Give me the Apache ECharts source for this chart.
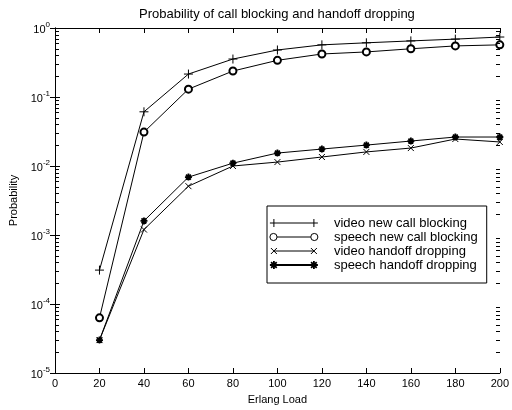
<!DOCTYPE html>
<html>
<head>
<meta charset="utf-8">
<script src="https://cdn.jsdelivr.net/npm/echarts@6/dist/echarts.min.js"></script>
<style>html,body{margin:0;padding:0;background:#fff;}#c{width:512px;height:410px;}</style>
</head>
<body>
<div id="c"></div>
<script>
const erlangLoad = [20, 40, 60, 80, 100, 120, 140, 160, 180, 200];
const videoNewCallBlocking = [3.1e-4, 0.061, 0.215, 0.355, 0.48, 0.57, 0.61, 0.65, 0.69, 0.74];
const speechNewCallBlocking = [6.3e-5, 0.031, 0.13, 0.238, 0.34, 0.42, 0.45, 0.50, 0.55, 0.57];
const videoHandoffDropping = [3.0e-5, 1.2e-3, 0.0051, 0.0100, 0.0114, 0.0135, 0.0160, 0.0182, 0.0246, 0.0223];
const speechHandoffDropping = [3.0e-5, 1.6e-3, 0.0069, 0.0110, 0.0154, 0.0176, 0.0201, 0.0230, 0.0263, 0.0263];
const seriesNames = ['video new call blocking', 'speech new call blocking', 'video handoff dropping', 'speech handoff dropping'];
const xTickValues = [0, 20, 40, 60, 80, 100, 120, 140, 160, 180, 200];
const decades = [1e-5, 1e-4, 1e-3, 1e-2, 1e-1];
const minorMultipliers = [2, 3, 4, 5, 6, 7, 8, 9];

const FONT = 'Liberation Sans, Arial, Helvetica, sans-serif';
const pts = arr => erlangLoad.map((x, i) => [x, arr[i]]);
const minorTickValues = [];
decades.forEach(d => minorMultipliers.forEach(m => minorTickValues.push(d * m)));

const SYM_PLUS = 'path://M0,5L10,5M5,0L5,10';
const SYM_X = 'path://M0,0L10,10M0,10L10,0';
const SYM_STAR = 'path://M0,5L10,5M5,0L5,10M1.5,1.5L8.5,8.5M1.5,8.5L8.5,1.5';

const LEG_PLUS = 'path://M0,4L48,4M4,0L4,8M44,0L44,8';
const LEG_CIRC = 'path://M0.5,4A3.5,3.5,0,1,1,7.5,4A3.5,3.5,0,1,1,0.5,4ZM7.5,4L40.5,4M40.5,4A3.5,3.5,0,1,1,47.5,4A3.5,3.5,0,1,1,40.5,4Z';
const LEG_X = 'path://M1,1L7,7M1,7L7,1M4,4L44,4M41,1L47,7M41,7L47,1M0,4L0,4M48,4L48,4';
const LEG_STAR = 'path://M0,4L8,4M4,0L4,8M1.2,1.2L6.8,6.8M1.2,6.8L6.8,1.2M4,4L44,4M40,4L48,4M44,0L44,8M41.2,1.2L46.8,6.8M41.2,6.8L46.8,1.2';

const chart = echarts.init(document.getElementById('c'), null, {renderer: 'canvas'});

function lineSeries(name, data, symbol, size, bw) {
  return {
    name: name, type: 'line', data: pts(data), symbol: symbol, symbolSize: size,
    showAllSymbol: true,
    lineStyle: {color: '#000', width: 1},
    itemStyle: {color: '#000', borderColor: '#000', borderWidth: bw},
    emphasis: {disabled: true}, silent: true, z: 3
  };
}

const supFmt = v => {
  const e = Math.round(Math.log10(v));
  return '{b|10}{s|' + (e === 0 ? '0' : String(e)) + '}';
};

const option = {
  animation: false,
  backgroundColor: '#fff',
  textStyle: {fontFamily: FONT, color: '#000'},
  title: {
    text: 'Probability of call blocking and handoff dropping',
    left: 134, top: 3,
    textStyle: {fontSize: 13, fontWeight: 'normal', color: '#000', fontFamily: FONT}
  },
  grid: {left: 55, right: 11, top: 28, bottom: 37, containLabel: false, show: false},
  legend: {
    orient: 'vertical', left: 267, top: 206,
    padding: [10, 9, 11, 2],
    itemWidth: 48, itemHeight: 8, itemGap: 0,
    borderColor: '#000', borderWidth: 1, backgroundColor: '#fff',
    textStyle: {fontSize: 13, color: '#000', fontFamily: FONT, lineHeight: 14, padding: [0, 0, 0, 11]},
    selectedMode: false,
    data: [
      {name: seriesNames[0], icon: LEG_PLUS, itemStyle: {color: '#000', borderColor: '#000', borderWidth: 1}},
      {name: seriesNames[1], icon: LEG_CIRC, itemStyle: {color: '#fff', borderColor: '#000', borderWidth: 1}},
      {name: seriesNames[2], icon: LEG_X, itemStyle: {color: '#000', borderColor: '#000', borderWidth: 1}},
      {name: seriesNames[3], icon: LEG_STAR, itemStyle: {color: '#000', borderColor: '#000', borderWidth: 1.8}}
    ]
  },
  xAxis: [{
    type: 'value', min: 0, max: 200, interval: 20, position: 'bottom',
    name: 'Erlang Load', nameLocation: 'middle', nameGap: 21,
    nameTextStyle: {fontSize: 11, color: '#000', fontFamily: FONT},
    axisLine: {show: true, lineStyle: {color: '#000', width: 1}},
    axisTick: {show: true, inside: true, length: 5, lineStyle: {color: '#000'}},
    axisLabel: {fontSize: 11, color: '#000', margin: 5, fontFamily: FONT,
      formatter: v => xTickValues.indexOf(v) >= 0 ? String(v) : ''},
    splitLine: {show: false}
  }, {
    type: 'value', min: 0, max: 200, interval: 20, position: 'top',
    axisLine: {show: true, lineStyle: {color: '#000', width: 1}},
    axisTick: {show: true, inside: true, length: 5, lineStyle: {color: '#000'}},
    axisLabel: {show: false}, splitLine: {show: false}
  }],
  yAxis: [{
    type: 'log', logBase: 10, min: 1e-5, max: 1, position: 'left',
    name: 'Probability', nameLocation: 'middle', nameGap: 36, nameRotate: 90,
    nameTextStyle: {fontSize: 11, color: '#000', fontFamily: FONT},
    axisLine: {show: true, lineStyle: {color: '#000', width: 1}},
    axisTick: {show: true, inside: true, length: 5, lineStyle: {color: '#000'}},
    axisLabel: {
      color: '#000', margin: 5, formatter: supFmt,
      rich: {
        b: {fontSize: 11, fontFamily: FONT, color: '#000', verticalAlign: 'bottom', lineHeight: 14},
        s: {fontSize: 8, fontFamily: FONT, color: '#000', verticalAlign: 'top', lineHeight: 14, padding: [0, 0, 6, 0]}
      }
    },
    splitLine: {show: false}
  }, {
    type: 'log', logBase: 10, min: 1e-5, max: 1, position: 'right',
    axisLine: {show: true, lineStyle: {color: '#000', width: 1}},
    axisTick: {show: true, inside: true, length: 5, lineStyle: {color: '#000'}},
    axisLabel: {show: false}, splitLine: {show: false}
  }],
  series: [
    lineSeries(seriesNames[0], videoNewCallBlocking, SYM_PLUS, 9, 1),
    lineSeries(seriesNames[1], speechNewCallBlocking, 'emptyCircle', 7, 1),
    lineSeries(seriesNames[2], videoHandoffDropping, SYM_X, 6, 1),
    lineSeries(seriesNames[3], speechHandoffDropping, SYM_STAR, 7, 1.8),
    {
      name: 'minorTicks', type: 'custom', silent: true, z: 10, clip: false,
      data: minorTickValues.map(v => [100, v]),
      encode: {x: 0, y: 1},
      renderItem: function (params, api) {
        const p = api.coord([api.value(0), api.value(1)]);
        const cs = params.coordSys;
        const y = Math.round(p[1]) + 0.5;
        const xl = Math.round(cs.x);
        const xr = Math.round(cs.x + cs.width);
        const st = {stroke: '#000', lineWidth: 1};
        return {
          type: 'group', children: [
            {type: 'line', shape: {x1: xl, y1: y, x2: xl + 4, y2: y}, style: st},
            {type: 'line', shape: {x1: xr, y1: y, x2: xr - 4, y2: y}, style: st}
          ]
        };
      }
    }
  ]
};
chart.setOption(option);
</script>
</body>
</html>
